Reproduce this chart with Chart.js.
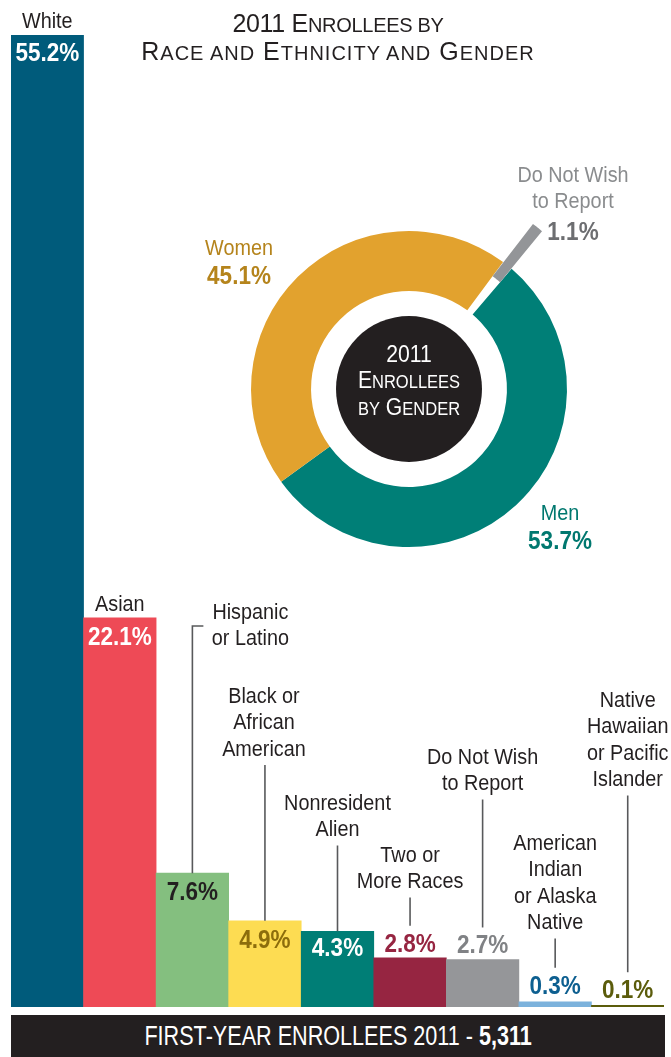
<!DOCTYPE html>
<html><head><meta charset="utf-8">
<script src="https://cdn.jsdelivr.net/npm/chart.js@4.4.1/dist/chart.umd.min.js"></script>
<style>
html,body{margin:0;padding:0;background:#fff;}
body{width:671px;height:1057px;position:relative;overflow:hidden;font-family:"Liberation Sans",Arial,sans-serif;color:#231f20;}
#bars{position:absolute;left:0;top:0;}
#donut{position:absolute;left:179px;top:159px;}
#title{position:absolute;left:0;width:676px;top:10px;text-align:center;font-size:25px;line-height:26px;white-space:nowrap;}
#title .l1{letter-spacing:-0.3px;}
#title .l2{letter-spacing:1.0px;}
.s{font-size:.8em;text-transform:uppercase;}
#center{position:absolute;left:309px;width:200px;top:342px;text-align:center;color:#fff;font-size:23px;line-height:25.5px;white-space:nowrap;transform:scaleX(0.92);transform-origin:50% 50%;}
#center .s{font-size:.78em;}
#footer{position:absolute;left:11px;top:1015px;width:654px;height:42px;background:#231f20;color:#fff;text-align:center;font-size:27px;line-height:42px;white-space:nowrap;}
#footer span{display:inline-block;transform:scaleX(0.8);transform-origin:50% 50%;}
</style></head><body>
<canvas id="bars" width="671" height="1057"></canvas>
<canvas id="donut" width="460" height="460"></canvas>
<div id="title"><div class="l1">2011 E<span class="s">nrollees by</span></div><div class="l2">R<span class="s">ace and</span> E<span class="s">thnicity and</span> G<span class="s">ender</span></div></div>
<div id="center"><div>2011</div><div>E<span class="s">nrollees</span></div><div><span class="s">by</span> G<span class="s">ender</span></div></div>
<div id="footer"><span id="foottext"></span></div>
<script>
// ---- data ----
const categories = ['White','Asian','Hispanic\nor Latino','Black or\nAfrican\nAmerican','Nonresident\nAlien','Two or\nMore Races','Do Not Wish\nto Report','American\nIndian\nor Alaska\nNative','Native\nHawaiian\nor Pacific\nIslander'];
const racePercents = [55.2, 22.1, 7.6, 4.9, 4.3, 2.8, 2.7, 0.3, 0.1];
const genderLabels = ['Men', 'Women', 'Do Not Wish\nto Report'];
const genderPercents = [53.7, 45.1, 1.1];
const totalEnrollees = 5311;
const yAxisMax = 57.2;

// ---- styles ----
const FONT = '"Liberation Sans",Arial,sans-serif';
const SX = 0.9; // horizontal condensing of label text
const barColors = ['#005b7b','#ee4a56','#84bf7f','#fddc52','#007e76','#962541','#959699','#7cb2dc','#5b5c0c'];
const valueColors = ['#ffffff','#ffffff','#231f20','#8c6d0c','#ffffff','#962541','#808285','#0d5f90','#5b5c0c'];
const labelLayout = [
  {y:null, dx:0,  val:'in',  vdy:17},
  {y:null, dx:0,  val:'in',  vdy:18},
  {y:611,  dx:58, val:'in',  vdy:18, hook:true},
  {y:695,  dx:-1, val:'in',  vdy:18},
  {y:802,  dx:0,  val:'in',  vdy:16},
  {y:854,  dx:0,  val:'out', vdy:-15},
  {y:756,  dx:0,  val:'out', vdy:-15},
  {y:842,  dx:0,  val:'out', vdy:-17},
  {y:699,  dx:0,  val:'out', vdy:-16}
];
const donutColors = ['#007f77','#e2a22e','#939598'];
const donutTextColors = [['#00786f','#00786f'],['#b5841c','#b5841c'],['#8a8c8e','#6d6e71']];
const donutLabelPos = [{dx:151, dy:123}, {dx:-170, dy:-142}, {dx:164, dy:-215}];

function txt(ctx, s, x, y, size, weight, color, sx){
  ctx.save();
  ctx.font = weight + ' ' + size + 'px ' + FONT;
  ctx.fillStyle = color;
  ctx.textAlign = 'center';
  ctx.textBaseline = 'alphabetic';
  ctx.translate(x, y + size*0.358);
  ctx.scale(sx || 1, 1);
  ctx.fillText(s, 0, 0);
  ctx.restore();
}
const pct = v => v.toFixed(1) + '%';

const barLabelPlugin = {
  id: 'barLabels',
  afterDatasetsDraw(chart){
    const ctx = chart.ctx;
    const meta = chart.getDatasetMeta(0);
    const lh = 26.5;
    meta.data.forEach((bar, i) => {
      const L = labelLayout[i];
      const lines = categories[i].split('\n');
      const top = bar.y, x = bar.x;
      const y0 = L.y != null ? L.y : top - 15 - (lines.length - 1) * lh;
      lines.forEach((ln, k) => txt(ctx, ln, x + L.dx, y0 + k * lh, 22, 'normal', '#231f20', SX));
      const vy = top + L.vdy;
      txt(ctx, pct(racePercents[i]), x, vy, 25, 'bold', valueColors[i], SX);
      if (L.y != null){
        const lt = y0 + (lines.length - 1) * lh + 17;
        const lb = L.val === 'in' ? top : vy - 17;
        ctx.save();
        ctx.strokeStyle = '#58595b';
        ctx.lineWidth = 1.6;
        ctx.beginPath();
        if (L.hook){
          ctx.moveTo(x, lb); ctx.lineTo(x, y0 + 15); ctx.lineTo(x + 11, y0 + 15);
        } else {
          ctx.moveTo(x, lt); ctx.lineTo(x, lb);
        }
        ctx.stroke();
        ctx.restore();
      }
    });
  }
};

new Chart(document.getElementById('bars'), {
  type: 'bar',
  data: { labels: categories, datasets: [{ data: racePercents, backgroundColor: barColors, borderWidth: 0, categoryPercentage: 1, barPercentage: 1 }] },
  options: {
    responsive: false, animation: false, devicePixelRatio: 1, events: [],
    layout: { padding: { left: 11, right: 7, top: 0, bottom: 50 } },
    scales: { x: { display: false }, y: { display: false, min: 0, max: yAxisMax } },
    plugins: { legend: { display: false }, tooltip: { enabled: false } }
  },
  plugins: [barLabelPlugin]
});

const donutPlugin = {
  id: 'donutDecor',
  afterDatasetsDraw(chart){
    const ctx = chart.ctx;
    const a = chart.chartArea;
    const cx = (a.left + a.right) / 2, cy = (a.top + a.bottom) / 2;
    ctx.save();
    ctx.fillStyle = '#231f20';
    ctx.beginPath(); ctx.arc(cx, cy, 73, 0, Math.PI * 2); ctx.fill();
    ctx.restore();
    genderLabels.forEach((lab, i) => {
      const p = donutLabelPos[i];
      const lines = lab.split('\n');
      lines.forEach((ln, k) => txt(ctx, ln, cx + p.dx, cy + p.dy + k * 26.5, 22, 'normal', donutTextColors[i][0], SX));
      txt(ctx, pct(genderPercents[i]), cx + p.dx, cy + p.dy + lines.length * 28.5, 25, 'bold', donutTextColors[i][1], SX);
    });
  }
};

new Chart(document.getElementById('donut'), {
  type: 'doughnut',
  data: { labels: genderLabels, datasets: [{ data: genderPercents, backgroundColor: donutColors, borderColor: donutColors, borderWidth: [0, 0, 6], borderJoinStyle: 'miter', offset: [0, 0, 94], hoverOffset: 0 }] },
  options: {
    responsive: false, animation: false, devicePixelRatio: 1, events: [],
    rotation: 40.5, radius: 158, cutout: '62%',
    plugins: { legend: { display: false }, tooltip: { enabled: false } }
  },
  plugins: [donutPlugin]
});

document.getElementById('foottext').innerHTML = 'FIRST-YEAR ENROLLEES 2011 - <b>' + totalEnrollees.toLocaleString('en-US') + '</b>';
</script>
</body></html>
